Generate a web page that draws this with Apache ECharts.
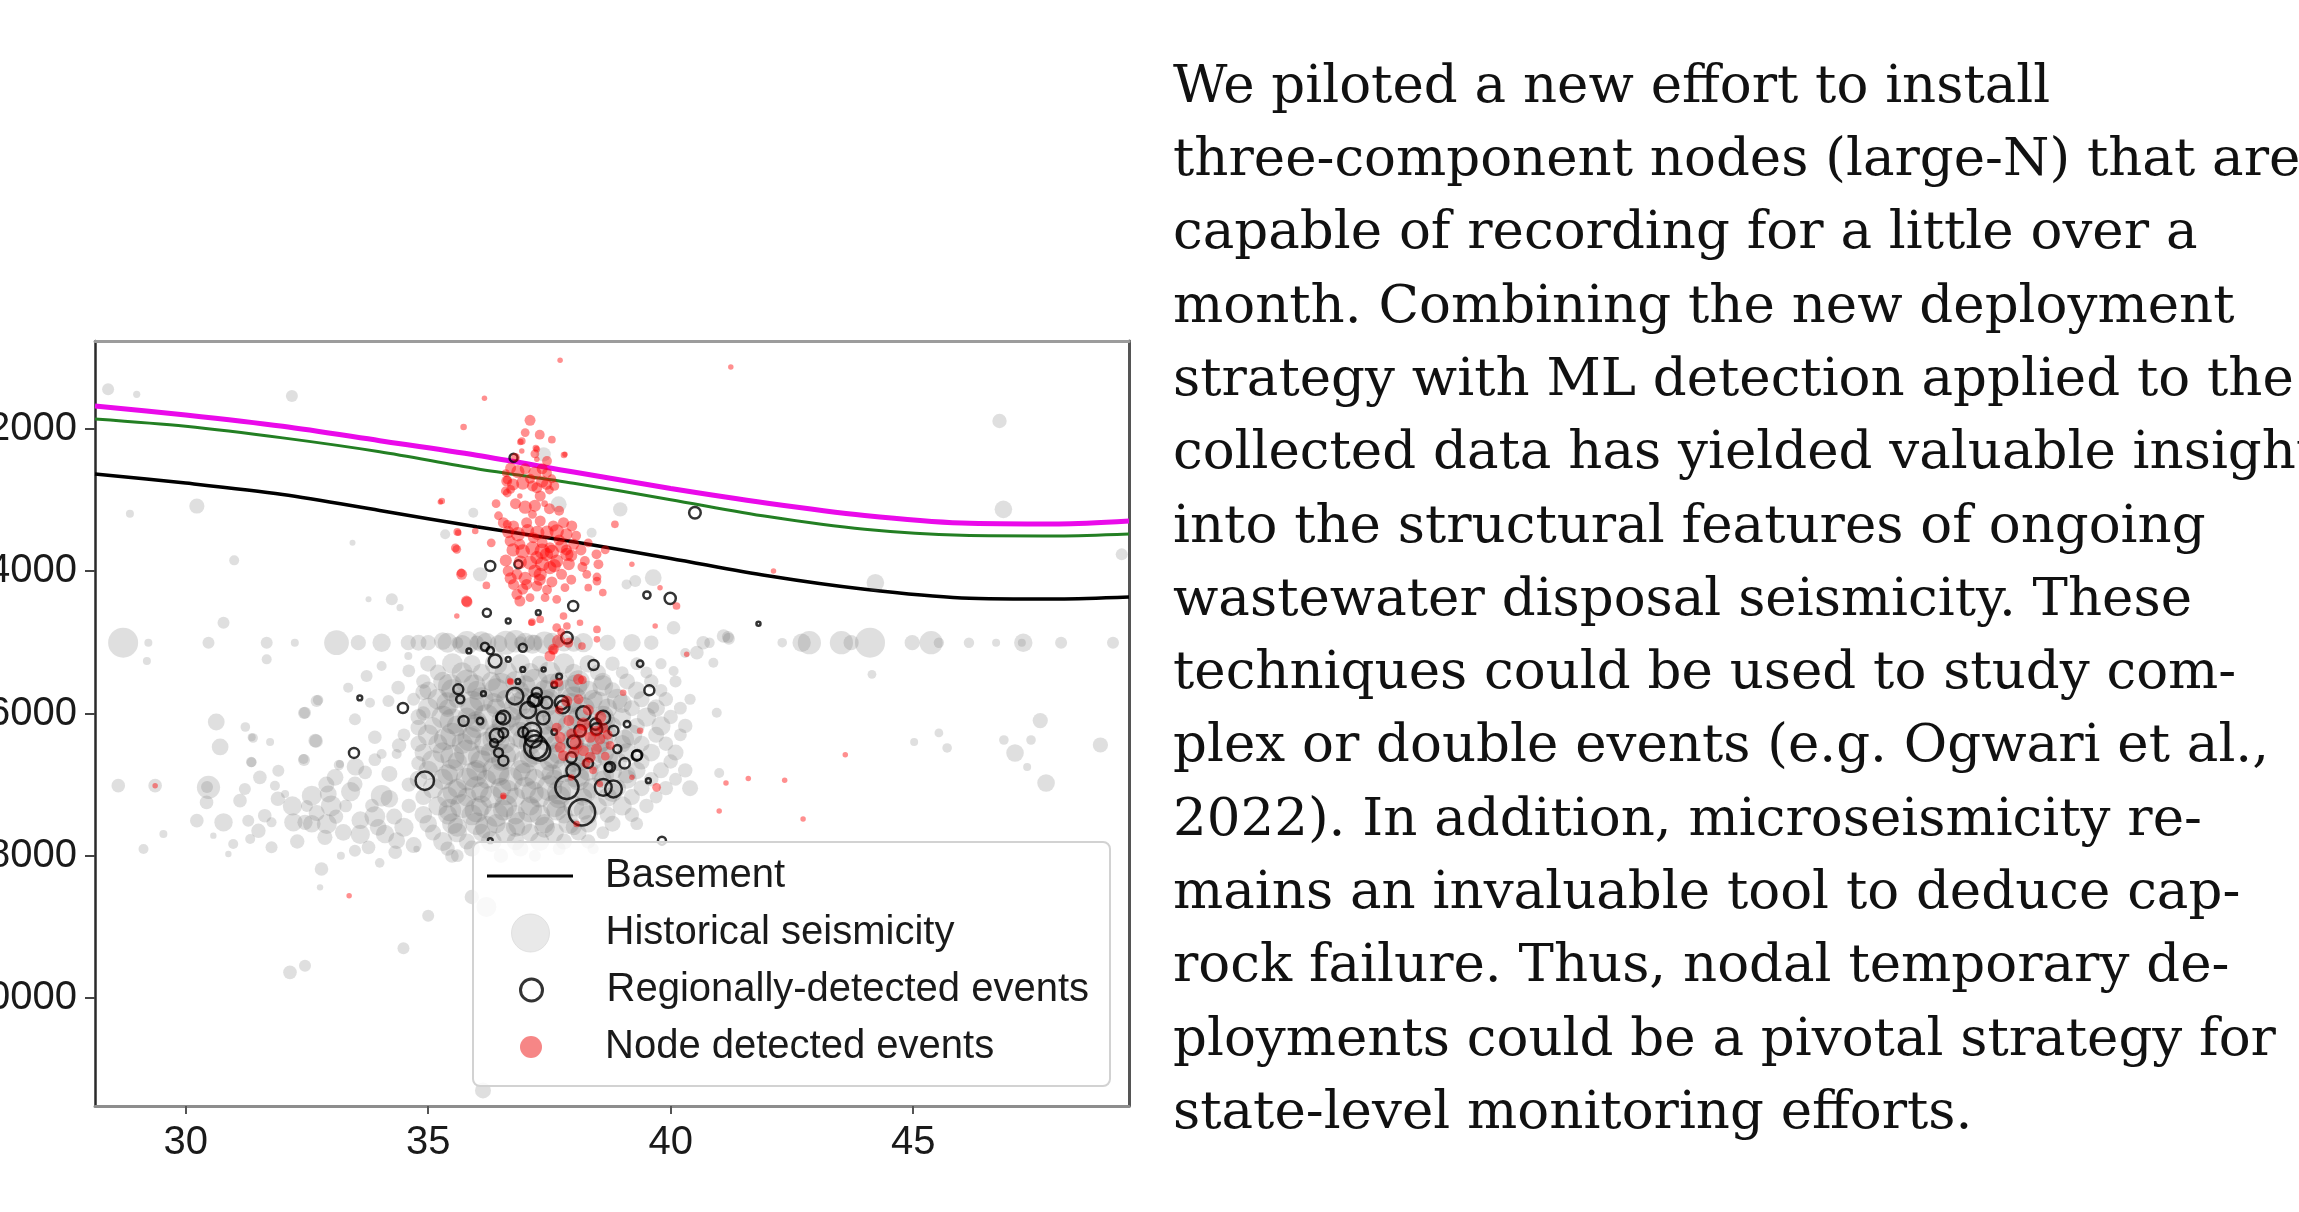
<!DOCTYPE html>
<html>
<head>
<meta charset="utf-8">
<title>Seismicity depth section</title>
<script src="https://cdn.jsdelivr.net/npm/echarts@6/dist/echarts.min.js"></script>
<style>
  html, body { margin: 0; padding: 0; background: #ffffff; }
  #chart { width: 2299px; height: 1212px; }
</style>
</head>
<body>
<div id="chart"></div>
<script>
// ---- axis extents and ticks ----
const xRange = [28.13, 49.45];
const depthRange = [763, 11519];
const xTicks = [30, 35, 40, 45];
const depthTicks = [2000, 4000, 6000, 8000, 10000];

// ---- horizon surfaces (distance, depth) ----
const horizonX = [28.13, 30, 32, 34, 36, 38, 40, 42, 44, 46, 48, 49.45];
const upperHorizonDepth = [1677, 1803, 1962, 2165, 2370, 2605, 2836, 3043, 3215, 3321, 3335, 3294];
const middleHorizonDepth = [1859, 1962, 2125, 2320, 2558, 2762, 2994, 3232, 3410, 3495, 3504, 3476];
const basementDepth = [2633, 2760, 2920, 3145, 3375, 3585, 3820, 4065, 4255, 4375, 4390, 4362];

// ---- catalogues: [distance, depth, magnitude] ----
const historicalQuakes = [
  [28.40,1443,1.5],[28.99,1513,0.9],[32.19,1536,1.5],[30.23,3083,1.9],[28.85,3191,1.0],[31.00,3847,1.25],[33.44,3599,0.75],
  [34.25,4395,1.5],[33.77,4395,0.75],[34.42,4513,0.9],[30.78,4724,1.5],
  [37.38,2357,1.8],[37.69,3060,2.0],[38.96,3130,1.8],[38.37,3458,1.25],[35.93,3177,1.25],[35.35,3481,1.25],[36.07,4044,1.8],
  [39.64,4091,2.1],[39.27,4138,1.5],[39.09,4185,1.25],[40.06,4794,1.7],[41.09,4911,1.7],[40.67,5005,1.7],[40.54,5145,1.7],
  [40.88,5286,1.25],[40.06,5403,1.25],[40.95,5989,1.25],[39.64,5919,1.5],[40.3,5150,1.25],[41.0,6837,1.25],[41.18,4925,1.5],
  [46.78,1888,1.8],[46.86,3130,2.2],[49.30,3763,1.5],[44.22,4161,2.2],[44.15,5450,1.1],[47.62,6100,1.9],[45.53,6274,1.1],
  [45.70,6485,1.2],[47.10,6555,2.2],[46.87,6373,1.2],[47.43,6373,1.2],[47.35,6752,1.0],[48.86,6443,1.9],[47.74,6977,2.2],[45.02,6401,1.0],
  [28.71,5005,3.75],[29.23,5005,1.0],[30.47,5005,1.5],[31.67,5005,1.5],[32.25,5005,1.0],[33.11,5005,3.1],[33.56,5005,1.9],
  [34.04,5005,2.3],[34.59,5005,1.9],[34.8,5005,2.0],[35.0,5005,1.9],[35.4,5005,2.5],[35.6,5005,1.5],[35.8,5005,2.9],[36.0,5005,1.8],
  [36.2,5005,2.5],[36.6,5005,3.0],[36.9,5005,1.6],[37.0,5005,2.5],[37.2,5005,2.0],[37.4,5005,2.8],[37.8,5005,2.2],[38.2,5005,2.4],
  [38.7,5005,2.0],[39.2,5005,2.2],[39.6,5005,1.8],[40.8,5005,1.3],[41.2,4950,1.5],[42.30,5005,1.2],[42.70,5005,2.3],[42.86,5005,2.9],
  [43.52,5005,2.9],[43.72,5005,1.9],[44.11,5005,3.75],[44.98,5005,1.9],[45.37,5005,2.9],[45.53,5005,1.3],[46.15,5005,1.3],
  [46.71,5005,1.0],[47.27,5005,2.3],[47.24,5005,1.0],[48.05,5005,1.5],[49.12,5005,1.5],
  [35.3,4980,2.2],[35.7,5030,2.4],[36.1,4990,2.6],[36.45,5020,2.2],[36.8,4985,2.8],[37.15,5025,2.4],[37.55,4990,2.2],[38.0,5020,2.0],
  [29.20,5262,1.0],[31.67,5239,1.25],[34.04,5333,1.25],[34.59,5192,1.0],
  [33.73,5474,1.5],[33.35,5637,1.25],[34.38,5637,1.7],[34.18,5825,1.5],[32.70,5825,1.5],[32.46,5989,1.5],[33.49,6083,1.5],
  [33.80,5848,1.25],[32.73,5810,1.3],[32.44,5993,1.5],
  [30.63,6120,2.1],[31.23,6190,1.2],[30.71,6471,2.1],[31.39,6345,1.2],[31.74,6401,1.0],[32.69,6387,1.7],[31.35,6682,1.3],
  [32.44,6654,1.5],[33.16,6724,1.3],[30.44,7033,1.5],
  [28.61,7015,1.7],[29.37,7015,1.7],[31.36,6335,1.0],[32.67,6382,1.7],[32.43,6640,1.25],[33.18,6710,1.0],[31.36,6687,1.25],
  [31.91,6804,1.5],[31.53,6898,1.7],[30.47,7039,2.9],[30.43,7250,1.7],[31.22,7062,1.5],[31.12,7226,1.7],[31.84,7015,1.25],
  [32.05,7132,1.0],[30.23,7507,1.7],[30.78,7531,2.3],[31.29,7507,1.5],[31.63,7437,1.7],[31.77,7531,1.25],[32.22,7531,2.3],
  [32.46,7531,1.9],[32.60,7156,2.5],[32.94,7132,2.1],[32.91,7554,2.5],[32.87,7741,1.9],[33.25,7671,2.1],[34.04,7156,2.7],
  [33.97,7601,2.1],[34.11,7695,2.3],[34.35,7788,2.1],[34.32,7952,1.7],[33.77,7882,1.7],[33.49,7929,1.5],[33.84,7296,1.7],
  [33.49,6992,1.9],[33.08,6898,2.1],[33.70,6828,1.7],[33.90,6335,1.7],[34.04,6570,1.25],[34.35,6570,1.25],[29.13,7906,1.25],
  [29.54,7695,1.0],[30.57,7718,0.8],[30.98,7835,1.25],[31.33,7765,1.25],[31.77,7882,1.5],[30.88,7976,0.8],[34.76,7906,0.8],
  [32.7,7400,2.0],[33.1,7450,1.8],[33.6,7500,2.2],[34.3,7450,2.0],[33.3,7300,1.6],[32.5,7300,1.5],[34.6,7300,1.8],[34.6,7000,1.8],
  [34.8,6700,1.8],[34.5,6300,1.6],[34.9,6000,1.8],[33.2,8000,1.0],[34.0,8100,1.2],
  [32.2,7300,2.4],[32.6,7550,2.2],[33.0,7300,2.6],[33.4,7100,2.4],[33.6,7700,2.4],[33.9,7450,2.6],[34.2,7200,2.2],[34.5,7600,2.4],
  [32.9,7000,2.0],[33.5,6750,2.2],[34.2,6850,2.0],[31.9,7200,1.8],[31.5,7650,1.8],[32.3,7800,1.8],[34.7,7850,2.0],[34.4,6450,1.8],
  [33.9,6650,1.6],[34.8,6200,2.0],[34.9,5700,2.0],[34.6,5400,1.6],
  [32.80,8187,1.7],[32.77,8445,0.8],[35.0,8843,1.5],[34.49,9302,1.5],[32.15,9640,1.7],[32.46,9546,1.5],[36.13,11300,2.0],
  [35.49,8004,1.7],[36.2,8720,2.5],[35.9,8580,1.8],
  [35.0,5300,2.0],[35.5,5300,2.6],[35.9,5300,2.2],[36.4,5300,2.8],[36.9,5300,2.4],[37.3,5300,2.0],[37.8,5300,2.6],[38.3,5300,2.2],
  [38.8,5300,1.8],[39.3,5300,1.6],[39.8,5300,1.4],
  [35.2,5425,2.0],[35.7,5425,2.6],[36.1,5425,2.2],[36.6,5425,2.8],[37.1,5425,2.4],[37.5,5425,2.8],[38.0,5425,2.2],[38.5,5425,2.0],
  [39.0,5425,1.6],[39.5,5425,1.5],
  [34.9,5550,1.8],[35.3,5550,2.4],[35.8,5550,3.0],[36.3,5550,2.4],[36.8,5550,2.6],[37.2,5550,3.2],[37.7,5550,2.4],[38.1,5550,2.8],
  [38.6,5550,2.2],[39.1,5550,2.0],[39.6,5550,1.8],[40.1,5550,1.5],
  [35.45,5610,3.0],[35.95,5610,2.8],[36.5,5610,3.2],[37.0,5610,2.6],[37.55,5610,3.0],[38.05,5610,2.8],[38.6,5610,2.6],
  [35.0,5675,2.2],[35.5,5675,2.8],[36.0,5675,2.4],[36.4,5675,3.0],[36.9,5675,2.2],[37.4,5675,2.6],[37.9,5675,2.8],[38.3,5675,2.4],
  [38.8,5675,2.0],[39.3,5675,2.2],[39.8,5675,1.6],
  [34.7,5800,1.6],[35.2,5800,2.6],[35.6,5800,2.2],[36.1,5800,3.0],[36.6,5800,2.4],[37.0,5800,2.8],[37.5,5800,2.6],[38.0,5800,3.2],
  [38.4,5800,2.4],[38.9,5800,2.6],[39.4,5800,2.0],[39.9,5800,1.8],[40.4,5800,1.4],
  [35.4,5860,2.8],[35.9,5860,3.2],[36.35,5860,2.6],[36.9,5860,3.0],[37.4,5860,3.4],[37.95,5860,2.6],[38.5,5860,3.0],[39.0,5860,2.4],
  [35.0,5925,2.6],[35.4,5925,2.2],[35.9,5925,2.8],[36.4,5925,2.4],[36.8,5925,3.0],[37.3,5925,2.6],[37.8,5925,2.2],[38.2,5925,2.8],
  [38.7,5925,2.4],[39.2,5925,2.0],[39.7,5925,2.2],[40.2,5925,1.6],
  [34.8,6050,2.0],[35.3,6050,2.8],[35.8,6050,2.4],[36.2,6050,3.2],[36.7,6050,2.6],[37.2,6050,2.4],[37.6,6050,3.0],[38.1,6050,2.6],
  [38.6,6050,2.8],[39.0,6050,2.2],[39.5,6050,2.4],[40.0,6050,1.8],
  [35.5,6110,3.2],[36.0,6110,2.6],[36.55,6110,3.0],[37.05,6110,3.2],[37.6,6110,2.8],[38.1,6110,3.0],[38.65,6110,2.6],
  [35.1,6175,2.2],[35.6,6175,2.6],[36.0,6175,3.0],[36.5,6175,2.4],[36.9,6175,2.8],[37.4,6175,2.2],[37.9,6175,2.8],[38.4,6175,2.4],
  [38.8,6175,2.2],[39.3,6175,2.0],[39.8,6175,2.4],[40.3,6175,1.8],
  [35.0,6300,2.6],[35.5,6300,3.0],[35.9,6300,2.4],[36.4,6300,2.8],[36.9,6300,3.2],[37.4,6300,2.6],[37.8,6300,2.4],[38.3,6300,3.0],
  [38.7,6300,2.4],[39.2,6300,2.6],[39.7,6300,2.0],[40.2,6300,1.6],
  [35.35,6360,2.8],[35.85,6360,3.0],[36.4,6360,3.4],[36.95,6360,2.6],[37.45,6360,3.0],[38.0,6360,2.8],[38.55,6360,3.2],[39.05,6360,2.4],
  [34.8,6425,2.0],[35.2,6425,2.4],[35.7,6425,2.6],[36.2,6425,3.0],[36.6,6425,2.4],[37.1,6425,2.8],[37.6,6425,2.2],[38.0,6425,2.6],
  [38.5,6425,2.8],[39.0,6425,2.2],[39.4,6425,2.0],[39.9,6425,1.8],
  [34.9,6550,2.2],[35.3,6550,2.6],[35.8,6550,3.2],[36.3,6550,2.6],[36.7,6550,2.4],[37.2,6550,3.0],[37.7,6550,2.8],[38.2,6550,2.4],
  [38.6,6550,2.8],[39.1,6550,2.4],[39.6,6550,2.2],[40.1,6550,2.0],
  [35.5,6610,3.0],[36.05,6610,2.8],[36.55,6610,3.2],[37.1,6610,2.6],[37.6,6610,3.0],[38.15,6610,3.4],[38.7,6610,2.6],
  [35.1,6675,2.8],[35.6,6675,2.4],[36.1,6675,2.8],[36.5,6675,2.4],[37.0,6675,3.0],[37.5,6675,2.4],[38.0,6675,2.6],[38.4,6675,2.2],
  [38.9,6675,2.4],[39.4,6675,2.0],[40.0,6675,1.8],
  [35.0,6800,2.4],[35.5,6800,2.8],[36.0,6800,2.6],[36.4,6800,3.4],[36.9,6800,2.6],[37.4,6800,2.4],[37.8,6800,3.0],[38.3,6800,2.6],
  [38.8,6800,2.4],[39.3,6800,2.2],[39.8,6800,2.0],[40.3,6800,1.8],
  [35.4,6860,2.6],[35.95,6860,3.2],[36.45,6860,2.8],[37.0,6860,3.0],[37.55,6860,2.6],[38.05,6860,3.2],[38.6,6860,2.8],[39.1,6860,2.2],
  [34.8,6925,2.2],[35.3,6925,2.6],[35.8,6925,2.8],[36.2,6925,2.4],[36.7,6925,3.0],[37.2,6925,2.6],[37.6,6925,2.4],[38.1,6925,2.8],
  [38.6,6925,2.2],[39.1,6925,2.4],[39.6,6925,1.8],[40.1,6925,1.6],
  [35.1,7050,2.6],[35.6,7050,2.4],[36.0,7050,3.0],[36.5,7050,2.6],[37.0,7050,2.8],[37.5,7050,3.2],[37.9,7050,2.4],[38.4,7050,2.6],
  [38.9,7050,2.2],[39.4,7050,2.0],[39.9,7050,1.8],[40.4,7050,2.0],
  [35.55,7110,3.0],[36.1,7110,2.6],[36.6,7110,3.2],[37.15,7110,2.8],[37.7,7110,3.0],[38.25,7110,2.6],[38.8,7110,2.4],
  [34.9,7175,2.0],[35.4,7175,2.6],[35.8,7175,2.4],[36.3,7175,2.8],[36.8,7175,2.4],[37.3,7175,2.6],[37.7,7175,2.8],[38.2,7175,2.2],
  [38.7,7175,2.4],[39.2,7175,2.0],[39.7,7175,1.6],
  [35.2,7300,2.4],[35.7,7300,3.0],[36.1,7300,2.6],[36.6,7300,2.8],[37.1,7300,2.4],[37.6,7300,2.8],[38.0,7300,2.6],[38.5,7300,2.2],
  [39.0,7300,2.4],[39.5,7300,1.8],
  [35.45,7360,2.8],[36.0,7360,3.0],[36.55,7360,2.6],[37.1,7360,3.0],[37.65,7360,2.6],[38.2,7360,2.4],
  [34.9,7425,2.2],[35.4,7425,2.4],[35.9,7425,2.6],[36.4,7425,3.0],[36.8,7425,2.4],[37.3,7425,2.6],[37.8,7425,2.2],[38.3,7425,2.4],
  [38.7,7425,2.0],[39.2,7425,1.8],
  [35.0,7550,2.2],[35.5,7550,2.6],[36.0,7550,2.8],[36.4,7550,2.4],[36.9,7550,3.0],[37.4,7550,2.4],[37.9,7550,2.6],[38.3,7550,2.2],
  [38.8,7550,2.0],[39.3,7550,1.6],
  [35.6,7600,2.4],[36.2,7600,2.8],[36.8,7600,2.4],[37.4,7600,2.6],[38.0,7600,2.0],
  [35.1,7675,2.0],[35.6,7675,2.4],[36.1,7675,2.2],[36.6,7675,2.6],[37.1,7675,2.2],[37.6,7675,2.4],[38.1,7675,2.0],[38.6,7675,1.6],
  [35.3,7800,2.4],[35.8,7800,2.0],[36.3,7800,2.6],[36.8,7800,2.2],[37.3,7800,2.4],[37.8,7800,2.0],[38.3,7800,1.8],
  [35.4,7900,1.8],[35.9,7900,2.0],[36.9,7900,2.0],[37.7,7900,1.6],[38.4,7900,1.4],
  [35.6,8000,1.6],[36.5,8000,1.8],[37.2,8000,1.5]
];

const regionalEvents = [
  [36.76,2404,1.0],[40.50,3177,1.45],[36.28,3927,1.25],[36.86,3903,1.0],[39.51,4335,0.9],[39.99,4381,1.4],[36.21,4583,1.0],
  [37.99,4489,1.25],[37.27,4583,0.6],[36.65,4700,0.6],[41.81,4737,0.5],[36.17,5061,1.0],[36.28,5117,0.9],[36.95,5075,1.0],
  [37.86,4935,1.45],[36.38,5262,1.6],[36.65,5239,0.6],[36.95,5380,0.6],[37.38,5380,0.5],[38.41,5319,1.25],[39.37,5300,0.8],
  [39.56,5675,1.25],[35.62,5661,1.25],[35.66,5801,1.0],[36.14,5722,0.6],[36.79,5755,2.1],[37.24,5708,1.25],[37.17,5825,1.45],
  [37.44,5848,1.45],[37.75,5848,1.7],[36.55,6059,1.7],[35.73,6106,1.25],[36.07,6106,0.8],[38.61,6059,1.7],[33.59,5782,0.6],
  [34.48,5923,1.25],[33.47,6555,1.25],[34.93,6945,2.3],[36.41,6312,1.7],[36.55,6664,1.25],[36.45,6550,1.1],[37.17,6359,2.1],
  [37.31,6523,2.5],[36.96,6265,1.25],[38.13,6242,1.45],[38.47,6218,1.45],[38.82,6242,1.25],[39.30,6593,1.25],[37.86,7039,2.9],
  [38.17,7390,3.3],[37.99,6804,1.7],[38.61,7039,2.1],[38.82,7062,2.1],[38.72,6757,1.0],[39.54,6945,0.6],[36.28,7788,0.6],
  [39.82,7788,1.0],[39.31,6584,1.25],[38.75,6752,1.25],[36.5,6063,1.2],[36.55,6274,1.2],[36.36,6415,1.0],[37.06,5951,2.0],
  [37.22,5810,1.6],[37.14,6260,2.3],[37.37,6063,1.6],[37.22,6471,2.9],[37.78,5908,1.6],[37.6,6260,0.7],[38.2,6000,1.8],
  [38.45,6150,1.4],[38.0,6400,1.6],[37.95,6620,1.3],[38.3,6700,1.2],[39.05,6700,1.3],[38.9,6500,1.0],[39.1,6150,0.8],
  [37.6,5600,0.7],[36.85,5550,0.6],[37.7,5480,0.7],[35.84,5120,0.6]
];

const nodeEvents = [
  [37.72,1035,0.5],[41.24,1129,0.5],[36.16,1569,0.5],[37.10,1878,1.0],[35.73,1972,0.6],[36.93,2169,0.7],[37.24,2286,0.6],
  [37.82,2357,0.5],[36.93,2310,0.5],[37.24,2427,0.5],[36.62,2732,1.0],[36.60,2620,0.7],[36.70,2850,0.8],[37.24,2825,1.0],
  [37.44,2778,1.0],[37.31,2942,1.0],[37.55,2700,0.8],[37.10,2700,0.9],[36.59,2872,0.8],[36.89,2942,0.5],[35.28,3013,0.6],
  [38.85,3341,0.7],[37.40,3050,0.6],[36.55,3317,1.0],[36.76,3364,1.0],[37.03,3317,1.0],[37.31,3294,1.0],[37.58,3364,1.0],
  [37.79,3317,1.0],[37.96,3364,1.0],[36.45,3220,0.8],[37.15,3200,0.8],[35.62,3458,0.6],[35.97,3435,0.6],[36.69,3575,1.0],
  [36.89,3622,1.0],[37.17,3528,1.0],[37.51,3669,1.0],[38.0,3622,1.0],[37.35,3600,1.0],[37.70,3560,1.0],[37.85,3700,1.0],
  [35.59,3692,0.8],[38.47,3763,0.9],[37.24,3809,1.2],[37.44,3763,1.2],[37.65,3856,1.2],[37.86,3763,1.2],[38.23,3856,0.9],
  [38.51,3903,0.9],[39.20,3903,0.5],[35.69,4044,1.0],[36.65,3997,1.0],[36.83,4044,1.0],[37.20,3997,1.2],[37.31,4044,1.2],
  [37.51,3950,1.2],[37.75,4044,1.0],[38.27,4044,0.8],[38.48,4138,0.8],[36.76,4185,1.0],[37.03,4185,1.0],[37.24,4208,1.0],
  [37.82,4231,0.8],[35.79,4419,1.0],[36.83,4325,1.0],[36.89,4419,1.0],[37.10,4372,0.8],[37.41,4372,0.8],[37.65,4395,0.8],
  [38.30,4231,0.7],[42.12,3997,0.5],[39.78,4231,0.5],[40.12,4489,0.7],[35.59,4630,0.5],[37.79,4630,0.7],[37.31,4677,0.7],
  [37.13,4724,0.6],[38.13,4724,0.6],[38.48,4818,0.7],[37.65,4794,0.8],[37.86,4770,0.7],[39.68,4770,0.5],[37.69,4982,1.2],
  [37.58,5098,1.0],[37.51,5192,1.0],[37.89,5005,0.9],[38.17,5052,0.7],[38.48,4958,0.6],[40.33,5169,0.5],[36.69,5543,0.6],
  [37.69,5567,0.8],[38.10,5520,1.0],[39.02,5708,0.6],[37.86,5825,1.0],[38.10,5801,0.9],
  [36.9,2183,0.6],[37.22,2267,0.6],[37.8,2366,0.6],[35.25,3026,0.5],[36.63,2717,0.8],[36.63,2900,0.8],[37.5,2858,0.8],
  [36.63,3341,0.8],[35.6,3448,0.7],[35.56,3673,0.8],[35.68,4025,0.8],[35.8,4432,1.0],[37.14,4714,0.7],[37.74,4855,0.7],
  [37.58,5107,0.8],[38.18,5529,0.8],[37.6,5575,0.7],[36.7,5557,0.6],[38.18,3940,0.9],[38.48,4081,0.8],
  [36.7,2550,1.0],[36.85,2600,1.2],[37.0,2560,1.0],[37.2,2620,1.2],[37.35,2560,1.0],[37.45,2620,0.9],
  [36.75,2780,1.1],[36.95,2760,1.2],[37.15,2800,1.0],[37.35,2740,1.1],[37.6,2800,0.9],
  [36.8,3050,1.0],[37.0,3100,1.2],[37.2,3080,1.1],[37.5,3120,1.0],[37.7,3150,0.9],
  [36.65,3450,1.1],[36.85,3480,1.3],[37.05,3430,1.2],[37.25,3460,1.3],[37.45,3450,1.2],[37.65,3440,1.3],[37.85,3480,1.1],[38.05,3500,0.9],
  [36.75,3700,1.2],[36.95,3720,1.3],[37.15,3680,1.3],[37.35,3720,1.4],[37.55,3730,1.3],[37.75,3650,1.2],[37.95,3780,1.1],[38.15,3700,1.0],
  [36.6,3850,1.1],[36.9,3870,1.2],[37.1,3880,1.3],[37.35,3900,1.3],[37.6,3920,1.2],[37.9,3900,1.1],
  [36.7,4100,1.1],[37.0,4100,1.2],[37.3,4120,1.1],[37.55,4150,1.0],[37.95,4120,0.9],
  [36.95,4250,1.0],[37.45,4260,0.9],
  [36.4,3050,0.8],[36.3,3600,0.8],[36.2,4200,0.7],[38.3,3600,0.8],[38.65,3700,0.8],[38.6,4300,0.7],
  [37.0,2050,0.8],[37.3,2080,0.9],[37.55,2150,0.7],[36.8,2400,0.8],[37.45,2450,0.9],[37.2,2350,0.8],
  [37.72,6335,1.0],[37.96,6289,1.0],[38.34,6335,1.0],[38.54,6359,1.0],[37.79,6593,1.0],[38.20,6523,1.0],[38.47,6500,1.0],
  [37.72,6476,1.0],[38.34,6617,1.0],[37.9,6100,1.0],[38.2,6150,1.2],[38.6,6200,1.0],[37.65,6200,0.9],[38.05,6420,1.2],
  [38.75,6450,0.8],[39.37,6242,0.6],[39.20,6898,0.5],[39.71,7039,0.8],[36.55,7156,0.6],[38.06,7554,0.6],[38.54,6992,0.6],
  [36.55,7174,0.5],[38.4,6800,0.7],[37.95,6900,0.6],
  [38.3,5950,1.0],[38.55,6050,1.1],[38.15,6250,1.2],[38.45,6250,1.0],[38.7,6300,0.9],[38.25,6700,0.8],[38.0,6550,1.0],
  [38.65,6600,0.8],[37.7,5950,0.8],
  [43.6,6580,0.5],[41.14,6977,0.5],[41.6,6915,0.5],[42.35,6940,0.5],[41.0,7370,0.5],[42.73,7484,0.5],[29.37,7015,0.5],[33.37,8562,0.5]
];

// ---- accompanying paragraph, one entry per typeset line ----
const paragraphLines = [
  'We piloted a new effort to install',
  'three-component nodes (large-N) that are',
  'capable of recording for a little over a',
  'month. Combining the new deployment',
  'strategy with ML detection applied to the',
  'collected data has yielded valuable insights',
  'into the structural features of ongoing',
  'wastewater disposal seismicity. These',
  'techniques could be used to study com-',
  'plex or double events (e.g. Ogwari et al.,',
  '2022). In addition, microseismicity re-',
  'mains an invaluable tool to deduce cap-',
  'rock failure. Thus, nodal temporary de-',
  'ployments could be a pivotal strategy for',
  'state-level monitoring efforts.'
];

// ---- build the chart ----
const sansFont = '"Liberation Sans", Arial, Helvetica, sans-serif';
const serifFont = '"DejaVu Serif", "Liberation Serif", serif';
const quakePx = (v) => v[2] * 8;
const nodePx = (v) => v[2] * 11;

function pairUp(xs, ys) {
  return xs.map((x, i) => [x, ys[i]]);
}

const paragraphGraphics = paragraphLines.map((line, i) => ({
  type: 'text',
  x: 1173,
  y: 88 + i * 73.3,
  silent: true,
  z: 10,
  style: {
    text: line,
    font: '53px ' + serifFont,
    fill: '#111111',
    align: 'left',
    verticalAlign: 'middle',
    textAlign: 'left',
    textVerticalAlign: 'middle'
  }
}));

const legendText = { fontSize: 40, fontFamily: sansFont, color: '#1a1a1a', lineHeight: 40 };

const option = {
  animation: false,
  backgroundColor: '#ffffff',
  grid: { left: 95, right: 1170, top: 341, bottom: 106, containLabel: false, outerBoundsMode: 'none' },
  xAxis: [
    {
      type: 'value', min: xRange[0], max: xRange[1], position: 'bottom',
      axisLine: { show: true, onZero: false, lineStyle: { color: '#8d8d8d', width: 3 } },
      axisTick: { show: true, length: 8, customValues: xTicks, lineStyle: { color: '#555555', width: 2 } },
      axisLabel: { customValues: xTicks, fontSize: 40, fontFamily: sansFont, color: '#1a1a1a', margin: 17,
                   formatter: (v) => String(v) },
      splitLine: { show: false }
    },
    {
      type: 'value', min: xRange[0], max: xRange[1], position: 'top',
      axisLine: { show: true, onZero: false, lineStyle: { color: '#9c9c9c', width: 3 } },
      axisTick: { show: false }, axisLabel: { show: false }, splitLine: { show: false }
    }
  ],
  yAxis: [
    {
      type: 'value', inverse: true, min: depthRange[0], max: depthRange[1], position: 'left',
      axisLine: { show: true, onZero: false, lineStyle: { color: '#2a2a2a', width: 2.5 } },
      axisTick: { show: true, length: 10, customValues: depthTicks, lineStyle: { color: '#444444', width: 2 } },
      axisLabel: { customValues: depthTicks, fontSize: 40, fontFamily: sansFont, color: '#1a1a1a', margin: 18,
                   formatter: (v) => String(v) },
      splitLine: { show: false }
    },
    {
      type: 'value', inverse: true, min: depthRange[0], max: depthRange[1], position: 'right',
      axisLine: { show: true, onZero: false, lineStyle: { color: '#555555', width: 3 } },
      axisTick: { show: false }, axisLabel: { show: false }, splitLine: { show: false }
    }
  ],
  legend: [
    {
      data: [{ name: 'Basement', icon: 'rect', itemStyle: { color: '#000000' } }],
      left: 487, top: 856, padding: 0, itemWidth: 86, itemHeight: 3, selectedMode: false, z: 12,
      textStyle: Object.assign({ padding: [0, 0, 0, 27] }, legendText)
    },
    {
      data: [{ name: 'Historical seismicity', icon: 'circle',
               itemStyle: { color: '#e4e4e4', borderColor: '#dcdcdc', borderWidth: 1 } }],
      left: 511, top: 913, padding: 0, itemWidth: 38, itemHeight: 38, selectedMode: false, z: 12,
      textStyle: Object.assign({ padding: [0, 0, 0, 51] }, legendText)
    },
    {
      data: [{ name: 'Regionally-detected events', icon: 'circle',
               itemStyle: { color: '#ffffff', borderColor: '#000000', borderWidth: 3 } }],
      left: 519, top: 970, padding: 0, itemWidth: 22, itemHeight: 22, selectedMode: false, z: 12,
      textStyle: Object.assign({ padding: [0, 0, 0, 59] }, legendText)
    },
    {
      data: [{ name: 'Node detected events', icon: 'circle',
               itemStyle: { color: '#f46868', borderWidth: 0 } }],
      left: 520, top: 1027, padding: 0, itemWidth: 22, itemHeight: 22, selectedMode: false, z: 12,
      textStyle: Object.assign({ padding: [0, 0, 0, 58] }, legendText)
    }
  ],
  graphic: [
    {
      type: 'rect', z: 11, silent: true,
      shape: { x: 473, y: 842, width: 637, height: 244, r: 7 },
      style: { fill: 'rgba(255,255,255,0.8)', stroke: '#d2d2d2', lineWidth: 2 }
    }
  ].concat(paragraphGraphics),
  series: [
    {
      name: 'Upper horizon', type: 'line', data: pairUp(horizonX, upperHorizonDepth),
      smooth: 0.3, showSymbol: false, symbol: 'none', z: 1,
      lineStyle: { color: '#ea0aea', width: 5 }
    },
    {
      name: 'Middle horizon', type: 'line', data: pairUp(horizonX, middleHorizonDepth),
      smooth: 0.3, showSymbol: false, symbol: 'none', z: 1,
      lineStyle: { color: '#237f23', width: 3 }
    },
    {
      name: 'Basement', type: 'line', data: pairUp(horizonX, basementDepth),
      smooth: 0.3, showSymbol: false, symbol: 'none', z: 1,
      lineStyle: { color: '#000000', width: 3.5 }
    },
    {
      name: 'Historical seismicity', type: 'scatter', data: historicalQuakes, z: 2,
      symbol: 'circle', symbolSize: quakePx,
      itemStyle: { color: 'rgba(105,105,105,0.27)', borderWidth: 0 }
    },
    {
      name: 'Regionally-detected events', type: 'scatter', data: regionalEvents, z: 3,
      symbol: 'circle', symbolSize: quakePx,
      itemStyle: { color: 'rgba(0,0,0,0)', borderColor: '#000000', borderWidth: 2.5 }
    },
    {
      name: 'Node detected events', type: 'scatter', data: nodeEvents, z: 4,
      symbol: 'circle', symbolSize: nodePx,
      itemStyle: { color: 'rgba(255,0,0,0.55)', borderWidth: 0 }
    }
  ]
};

const chart = echarts.init(document.getElementById('chart'), null, { renderer: 'canvas' });
chart.setOption(option);
</script>
</body>
</html>
